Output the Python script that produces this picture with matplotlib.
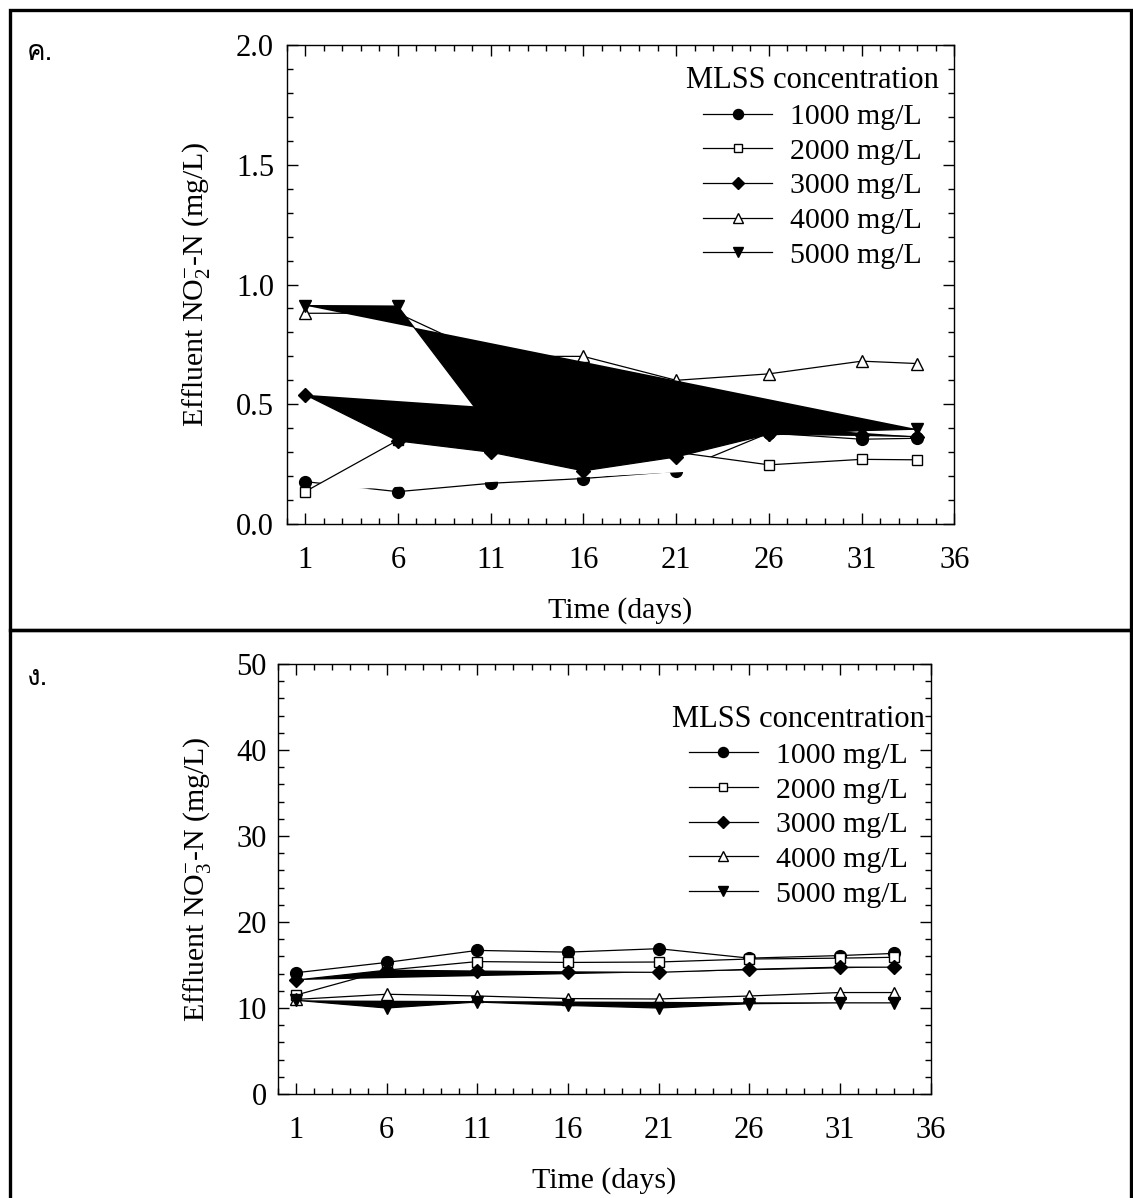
import matplotlib
matplotlib.use('Agg')
import matplotlib.pyplot as plt
import matplotlib.patches as patches
from matplotlib import font_manager
from matplotlib.ft2font import FT2Font
from matplotlib.ticker import MultipleLocator, FixedLocator

plt.rcParams['font.family'] = 'Liberation Serif'
plt.rcParams['mathtext.fontset'] = 'custom'
plt.rcParams['mathtext.rm'] = 'Liberation Serif'
plt.rcParams['mathtext.it'] = 'Liberation Serif:italic'
plt.rcParams['mathtext.bf'] = 'Liberation Serif:bold'

# data
days = [1, 6, 11, 16, 21, 26, 31, 34]
series_names = ['1000 mg/L', '2000 mg/L', '3000 mg/L', '4000 mg/L', '5000 mg/L']

no2_1000 = [0.177, 0.135, 0.17, 0.19, 0.22, 0.38, 0.354, 0.358]
no2_2000 = [0.135, 0.35, 0.37, 0.33, 0.30, 0.247, 0.27, 0.268]
no2_3000 = [0.54, 0.347, 0.30, 0.222, 0.28, 0.375, 0.37, 0.365]
no2_4000 = [0.88, 0.88, 0.70, 0.70, 0.60, 0.627, 0.68, 0.67]
no2_5000 = [0.912, 0.91, 0.40, 0.36, 0.35, 0.372, 0.39, 0.396]

no3_1000 = [14.1, 15.3, 16.7, 16.5, 16.9, 15.8, 16.1, 16.35]
no3_2000 = [11.5, 14.4, 15.4, 15.3, 15.35, 15.7, 15.8, 15.9]
no3_3000 = [13.25, 14.4, 14.3, 14.2, 14.15, 14.5, 14.75, 14.75]
no3_4000 = [11.0, 11.6, 11.4, 11.1, 11.05, 11.4, 11.8, 11.8]
no3_5000 = [10.9, 10.0, 10.7, 10.3, 10.0, 10.5, 10.6, 10.6]

no2 = [no2_1000, no2_2000, no2_3000, no2_4000, no2_5000]
no3 = [no3_1000, no3_2000, no3_3000, no3_4000, no3_5000]

# marker styles; the original's polylines got closed and filled
markers = ['o', 's', 'D', '^', 'v']
faces = ['black', 'white', 'black', 'white', 'black']
msizes = [8.5, 7.5, 7.5, 8.5, 8.5]
fills = [None, 'white', 'black', 'white', 'black']

FS = 21.5


def thai_font():
    for f in font_manager.fontManager.ttflist:
        try:
            if 0x0E04 in FT2Font(f.fname).get_charmap():
                return f.name
        except Exception:
            pass
    return 'DejaVu Sans'


thai = thai_font()


def draw_panel(ax, data, ymax, ymajor, yminor, yfmt):
    for i, vals in enumerate(data):
        z = 2 + i
        if fills[i] is not None:
            ax.fill(days, vals, color=fills[i], lw=0, zorder=z)
        ax.plot(days, vals, color='black', lw=0.9, marker=markers[i],
                markersize=msizes[i], markerfacecolor=faces[i],
                markeredgecolor='black', markeredgewidth=1.0,
                label=series_names[i], zorder=z + 0.5)
    ax.set_xlim(0, 36)
    ax.set_ylim(0, ymax)
    ax.xaxis.set_major_locator(FixedLocator([1, 6, 11, 16, 21, 26, 31, 36]))
    ax.xaxis.set_minor_locator(MultipleLocator(1))
    ax.yaxis.set_major_locator(MultipleLocator(ymajor))
    ax.yaxis.set_minor_locator(MultipleLocator(yminor))
    ax.yaxis.set_major_formatter(yfmt)
    ax.tick_params(which='both', direction='in', top=True, right=True,
                   width=1.0, labelsize=22)
    ax.tick_params(which='major', length=8)
    ax.tick_params(which='minor', length=4)
    ax.tick_params(axis='x', which='major', pad=16)
    for s in ax.spines.values():
        s.set_linewidth(1.0)
    ax.set_xlabel('Time (days)', fontsize=FS, labelpad=16)


def add_legend(ax, anchor_x, anchor_y):
    return ax.legend(loc='upper right', bbox_to_anchor=(anchor_x, anchor_y),
                     frameon=False, fontsize=FS, title='MLSS concentration',
                     title_fontsize=22, handlelength=2.3, handletextpad=0.6,
                     labelspacing=0.26, borderaxespad=0, borderpad=0.2,
                     markerscale=0.85)


fig = plt.figure(figsize=(11.33, 11.98), dpi=100)

ax1 = fig.add_axes([0.2529, 0.5626, 0.5895, 0.3998])
draw_panel(ax1, no2, 2.0, 0.5, 0.1, '{x:.1f}')
ax1.tick_params(axis='y', which='major', pad=9)
ax1.set_ylabel(r'Effluent NO$_2^{-}$-N (mg/L)', fontsize=FS, labelpad=17)
add_legend(ax1, 0.986, 0.968)

ax2 = fig.add_axes([0.2451, 0.0868, 0.5763, 0.3589])
draw_panel(ax2, no3, 50, 10, 2, '{x:.0f}')
ax2.tick_params(axis='y', which='major', pad=8)
ax2.set_ylabel(r'Effluent NO$_3^{-}$-N (mg/L)', fontsize=FS, labelpad=17)
add_legend(ax2, 1.0, 0.918)

# panel letters
fig.text(27 / 1133, 1 - 53 / 1198, 'ค.', family=[thai, 'DejaVu Sans'],
         fontsize=20, va='center', ha='left')
fig.text(27 / 1133, 1 - 678 / 1198, 'ง.', family=[thai, 'DejaVu Sans'],
         fontsize=20, va='center', ha='left')

# frames around the two panels
fig.add_artist(patches.Rectangle((10 / 1133, 1 - 630 / 1198), 1121 / 1133,
                                 620 / 1198, transform=fig.transFigure,
                                 fill=False, lw=2.4, color='black'))
fig.add_artist(patches.Rectangle((10 / 1133, -0.05), 1121 / 1133,
                                 1 - 630 / 1198 + 0.05,
                                 transform=fig.transFigure,
                                 fill=False, lw=2.4, color='black'))

fig.savefig('out.png', dpi=100)
